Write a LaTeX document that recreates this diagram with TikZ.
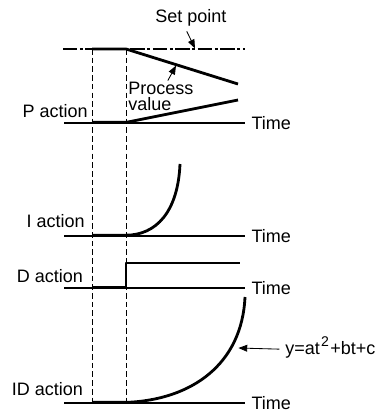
\documentclass[tikz,border=0pt]{standalone}
\usepackage{fontspec}
\setmainfont{Liberation Sans}
\usetikzlibrary{arrows.meta,positioning}

\begin{document}
\begin{tikzpicture}[
  font=\fontsize{12.8}{13}\selectfont,
  >={Triangle[length=2.2mm,width=1.7mm]},
  axis/.style={line width=1.4pt},
  guide/.style={line width=0.6pt, dash pattern=on 4pt off 2.2pt},
  setline/.style={line width=1.3pt, dash pattern=on 10pt off 2pt on 2pt off 2pt},
  resp/.style={line width=2pt, line join=round},
  lab/.style={inner sep=0pt, anchor=base east},
  timelab/.style={right=4pt, inner sep=0pt},
  pointer/.style={->, line width=0.6pt}
]
\path[use as bounding box] (0,0) rectangle (9.675,10.3);

% two time marks
\draw[guide] (2.3,9.075) -- (2.3,0.225);
\draw[guide] (3.15,9.075) -- (3.15,0.225);

% P action
\draw[setline] (1.575,9.075) -- (6.125,9.075);
\draw[resp] (2.3,9.075) -- (3.15,9.075) -- (5.95,8.2);
\draw[axis] (1.6,7.225) -- (6.125,7.225) node[timelab] (tp) {Time};
\draw[resp] (2.3,7.24) -- (3.15,7.24) -- (5.95,7.8);
\node[lab] (pa) at (2.2,7.35) {P action};

\node (sp) at (4.775,9.85) {Set point};
\coordinate (spt) at (4.875,9.09);
\draw[pointer] ([xshift=-3pt]sp.south) -- (spt);

\node[align=left, anchor=north west, inner sep=0pt,
  font=\fontsize{12.8}{11.6}\selectfont] (pv) at (3.2,8.25) {Process\\value};
\coordinate (pvt) at (4.4,8.66);
\draw[pointer] ([xshift=5pt,yshift=1pt]pv.north) -- (pvt);

% I action
\draw[axis] (1.6,4.4) -- (6.125,4.4) node[timelab] (ti) {Time};
\draw[resp] (2.3,4.42) -- (3.15,4.42)
  .. controls (3.9,4.42) and (4.45,5.0) .. (4.5,6.2);
\node[lab] (ia) at (2.125,4.6) {I action};

% D action
\draw[axis] (1.6,3.1) -- (6.125,3.1) node[timelab] (td) {Time};
\draw[resp] (2.3,3.125) -- (3.15,3.125) -- (3.15,3.725) -- (6.0,3.725);
\node[lab] (da) at (2.08,3.225) {D action};

% ID action
\draw[axis] (1.6,0.225) -- (6.125,0.225) node[timelab] (tid) {Time};
\draw[resp] (2.3,0.24) -- (3.15,0.24)
  .. controls (4.8,0.3) and (6.05,1.2) .. (6.125,2.875);
\node[lab] (ida) at (2.08,0.425) {ID action};

\node[anchor=base west, inner sep=0pt] (eq) at (7.125,1.425)
  {y=at\kern1pt\raisebox{6pt}{\fontsize{10}{10}\selectfont 2}\kern1pt+bt+c};
\coordinate (idt) at (5.96,1.6);
\draw[pointer] ([xshift=-4pt,yshift=-1pt]eq.west) -- (idt);
\end{tikzpicture}
\end{document}
